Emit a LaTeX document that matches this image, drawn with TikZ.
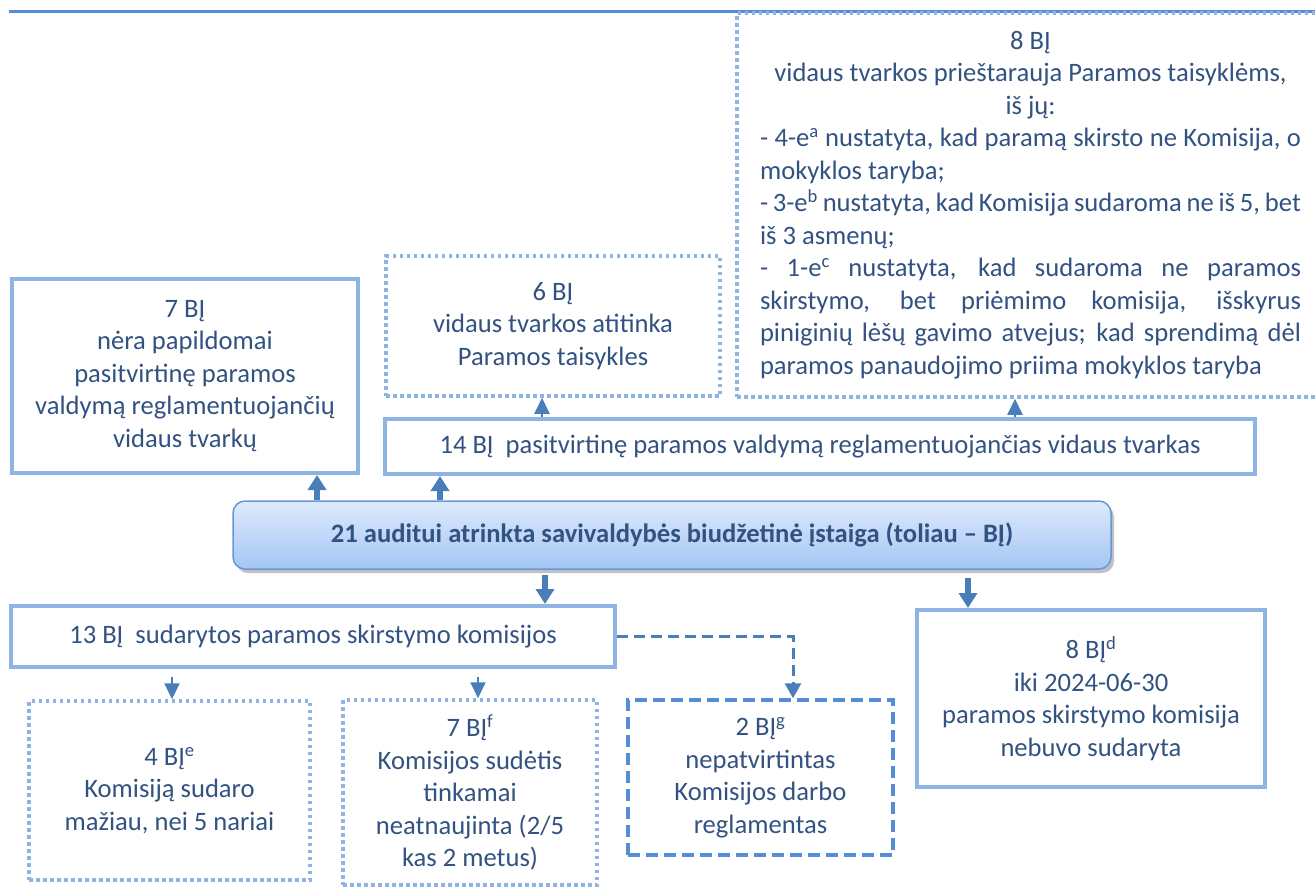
\documentclass[tikz,border=0pt]{standalone}
\usepackage{fontspec}
\setmainfont{Carlito}
\usetikzlibrary{arrows.meta,shadows}
\definecolor{txtblue}{RGB}{50,82,130}
\definecolor{edgeblue}{RGB}{141,180,226}
\definecolor{dashblue}{RGB}{85,142,213}
\definecolor{arrblue}{RGB}{74,126,187}
\definecolor{maintop}{RGB}{222,234,251}
\definecolor{mainbot}{RGB}{164,197,245}
\definecolor{mainedge}{RGB}{105,150,212}
\tikzset{
  solidbox/.style={draw=edgeblue, line width=4pt, inner sep=0pt, align=center},
  dotbox/.style={draw=edgeblue, line width=3.5pt, dash pattern=on 3.5pt off 3.5pt, inner sep=0pt, align=center},
  dashbox/.style={draw=dashblue, line width=3.5pt, dash pattern=on 12pt off 6pt, inner sep=0pt, align=center},
  mainbox/.style={draw=mainedge, line width=1.5pt, rounded corners=12pt, top color=maintop, bottom color=mainbot,
    drop shadow={shadow xshift=3pt, shadow yshift=-4pt, opacity=.35, fill=black!70}, font=\fontsize{26.6}{32.5}\selectfont\bfseries},
  bigarrow/.style={arrblue, line width=6pt, -{Triangle[width=18pt,length=15pt]}},
  smallarrow/.style={arrblue, line width=2pt, -{Triangle[width=15pt,length=16pt]}},
  dasharrow/.style={arrblue, line width=3pt, dash pattern=on 11pt off 6pt, -{Triangle[width=16pt,length=15pt]}}
}
\begin{document}
\begin{tikzpicture}[x=1pt, y=-1pt, every node/.style={text=txtblue, font=\fontsize{26.6}{32.5}\selectfont}]
	\useasboundingbox (0,0) rectangle (1315,887);
	\draw[dashblue, line width=3pt] (9,11) -- (1315,11);

	\node[dotbox, text width=541pt, align=justify, inner xsep=23pt, minimum height=384pt] (priest) at (1030.5,205) {\parindent=0pt\emergencystretch=10pt
		{\centering 8 BĮ\\vidaus tvarkos prieštarauja Paramos taisyklėms,\\iš jų:\par}
		- 4-e\textsuperscript{a} nustatyta, kad paramą skirsto ne Komisija, o\linebreak mokyklos taryba;\par
		- 3-e\textsuperscript{b} nustatyta, kad Komisija sudaroma ne iš 5, bet\linebreak iš 3 asmenų;\par
		- 1-e\textsuperscript{c} nustatyta, kad sudaroma ne paramos\linebreak skirstymo, bet priėmimo komisija, išskyrus\linebreak piniginių lėšų gavimo atvejus; kad sprendimą dėl\linebreak paramos panaudojimo priima mokyklos taryba};
	\node[dotbox, minimum width=334pt, minimum height=140pt] (atitinka) at (553,326) {6 BĮ\\vidaus tvarkos atitinka\\Paramos taisykles};
	\node[solidbox, minimum width=346pt, minimum height=194pt] (noTvark) at (185,376) {7 BĮ\\nėra papildomai\\pasitvirtinę paramos\\valdymą reglamentuojančių\\vidaus tvarkų};
	\node[solidbox, minimum width=870pt, minimum height=55pt] (patv) at (820,446.5) {14 BĮ~~pasitvirtinę paramos valdymą reglamentuojančias vidaus tvarkas};

	\node[mainbox, minimum width=878pt, minimum height=68pt] (cbox) at (672,535) {21 auditui atrinkta savivaldybės biudžetinė įstaiga (toliau – BĮ)};

	\node[solidbox, minimum width=604pt, minimum height=61pt] (sudar) at (313,636.5) {13 BĮ~~sudarytos paramos skirstymo komisijos};
	\node[solidbox, minimum width=348pt, minimum height=177pt] (nesud) at (1091,698.5) {8 BĮ\textsuperscript{d}\\iki 2024-06-30\\paramos skirstymo komisija\\nebuvo sudaryta};
	\node[dotbox, minimum width=281pt, minimum height=179pt] (mazai) at (169.5,790.5) {4 BĮ\textsuperscript{e}\\Komisiją sudaro\\mažiau, nei 5 nariai};
	\node[dotbox, minimum width=254pt, minimum height=185pt] (sudetis) at (470,792.5) {7 BĮ\textsuperscript{f}\\Komisijos sudėtis\\tinkamai\\neatnaujinta (2/5\\kas 2 metus)};
	\node[dashbox, minimum width=265pt, minimum height=155pt] (regl) at (760.5,777.5) {2 BĮ\textsuperscript{g}\\nepatvirtintas\\Komisijos darbo\\reglamentas};

	\draw[bigarrow] (cbox.north -| 317,0) -- (noTvark.south -| 317,0);
	\draw[bigarrow] (cbox.north -| 440,0) -- (patv.south -| 440,0);
	\draw[smallarrow] (patv.north -| 542,0) -- (atitinka.south -| 542,0);
	\draw[smallarrow] (patv.north -| 1015,0) -- (priest.south -| 1015,0);
	\draw[bigarrow, shorten <=5pt] (cbox.south -| 545,0) -- (sudar.north -| 545,0);
	\draw[bigarrow, shorten <=8pt] (cbox.south -| 968,0) -- (nesud.north -| 968,0);
	\draw[smallarrow, shorten <=8pt] (sudar.south -| 172,0) -- (mazai.north -| 172,0);
	\draw[smallarrow, shorten <=8pt] (sudar.south -| 478,0) -- (sudetis.north -| 478,0);
	\draw[dasharrow] (sudar.east) -| (regl.north -| 793,0);
\end{tikzpicture}
\end{document}
